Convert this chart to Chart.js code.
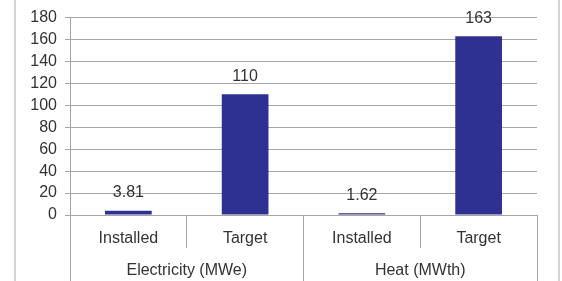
<!DOCTYPE html>
<html>
<head>
<meta charset="utf-8">
<script src="https://cdn.jsdelivr.net/npm/chart.js@4/dist/chart.umd.min.js"></script>
<style>
  html, body { margin: 0; padding: 0; background: #fff; }
  #wrap { position: relative; width: 562px; height: 281px; }
  #frame { position: absolute; left: 14px; top: 0; width: 542px; height: 281px;
           border-left: 2px solid #d4d4d4; border-right: 2px solid #d4d4d4; pointer-events: none; }
</style>
</head>
<body>
<div id="wrap">
  <canvas id="chart" width="562" height="281"></canvas>
  <div id="frame"></div>
</div>
<script>
// categories and values
var categories = ['Installed', 'Target', 'Installed', 'Target'];
var groups = ['Electricity (MWe)', 'Heat (MWth)'];
var values = [3.81, 110, 1.62, 163];
var valueLabels = ['3.81', '110', '1.62', '163'];

var gridColor = '#a6a6a6';
var textColor = '#333333';
var fontFamily = "'Liberation Sans', Arial, sans-serif";

// draws the number above each bar
var barLabels = {
    id: 'barLabels',
    afterDatasetsDraw: function(chart) {
        var ctx = chart.ctx;
        var meta = chart.getDatasetMeta(0);
        ctx.save();
        ctx.font = '16px ' + fontFamily;
        ctx.fillStyle = textColor;
        ctx.textAlign = 'center';
        ctx.textBaseline = 'middle';
        meta.data.forEach(function(bar, i) {
            ctx.fillText(valueLabels[i], bar.x, bar.y - 18);
        });
        ctx.restore();
    }
};

var ctx = document.getElementById('chart').getContext('2d');

var chart = new Chart(ctx, {
    type: 'bar',
    data: {
        labels: categories,
        datasets: [{
            data: values,
            backgroundColor: '#2e3192',
            borderWidth: 0,
            categoryPercentage: 1,
            barPercentage: 0.4
        }]
    },
    options: {
        responsive: false,
        animation: false,
        layout: { padding: { left: 16, right: 25, top: 16, bottom: 0 } },
        plugins: {
            legend: { display: false },
            tooltip: { enabled: false }
        },
        scales: {
            y: {
                min: 0,
                max: 180,
                ticks: {
                    stepSize: 20,
                    autoSkip: false,
                    color: textColor,
                    font: { family: fontFamily, size: 16 },
                    padding: 8
                },
                grid: { color: gridColor, tickLength: 5, lineWidth: 1 },
                border: { display: true, color: gridColor },
                afterFit: function(scale) { scale.width = 54; }
            },
            x: {
                position: 'bottom',
                ticks: {
                    autoSkip: false,
                    maxRotation: 0,
                    color: textColor,
                    font: { family: fontFamily, size: 16 },
                    padding: -19
                },
                grid: { offset: true, drawOnChartArea: false, tickLength: 33, color: gridColor },
                border: { display: true, color: gridColor },
                afterFit: function(scale) { scale.height = 33; }
            },
            x2: {
                type: 'category',
                labels: groups,
                position: 'bottom',
                offset: true,
                ticks: {
                    autoSkip: false,
                    maxRotation: 0,
                    color: textColor,
                    font: { family: fontFamily, size: 16 },
                    padding: -20
                },
                grid: { offset: true, drawOnChartArea: false, tickLength: 33, color: gridColor },
                border: { display: false },
                afterFit: function(scale) { scale.height = 33; }
            }
        }
    },
    plugins: [barLabels]
});
</script>
</body>
</html>
